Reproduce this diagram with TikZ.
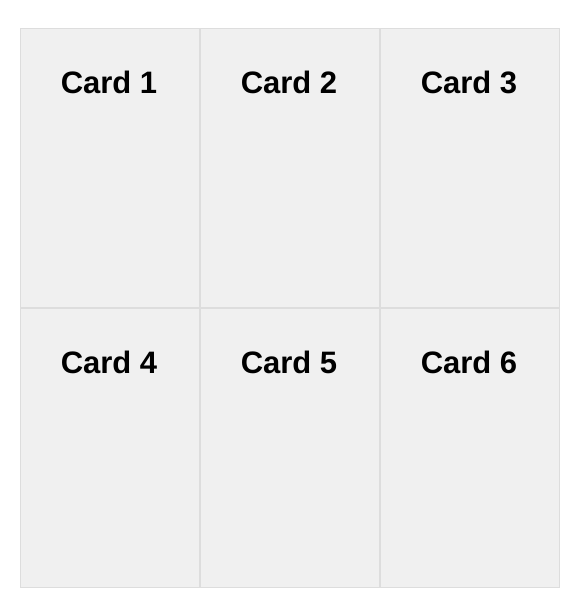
\documentclass[tikz,border=0pt]{standalone}
\usepackage{fontspec}
\setmainfont{Liberation Sans}
\usepackage{xcolor}
\usetikzlibrary{positioning}
\definecolor{cardfill}{HTML}{F0F0F0}
\definecolor{cardline}{HTML}{DDDDDD}
\tikzset{
    card/.style = {rectangle, draw=cardline, fill=cardfill, line width=1pt, inner sep=0pt, minimum width=179pt, minimum height=279pt},
    title/.style = {align=center, inner sep=0pt, text centered, font=\fontsize{31}{37}\selectfont\bfseries}
}
\begin{document}
\begin{tikzpicture}
            [node distance = 0pt]
            \useasboundingbox (0pt,0pt) rectangle (576pt,-609pt);

            % cards
            \node [card] (c1) at (110pt,-168pt) {};
            \node [card, right=of c1] (c2) {};
            \node [card, right=of c2] (c3) {};
            \node [card, below=of c1] (c4) {};
            \node [card, right=of c4] (c5) {};
            \node [card, right=of c5] (c6) {};

            % titles
            \node [title] (t1) at ([xshift=-1pt, yshift=-54pt]c1.north) {Card 1};
            \node [title] (t2) at ([xshift=-1pt, yshift=-54pt]c2.north) {Card 2};
            \node [title] (t3) at ([xshift=-1pt, yshift=-54pt]c3.north) {Card 3};
            \node [title] (t4) at ([xshift=-1pt, yshift=-54pt]c4.north) {Card 4};
            \node [title] (t5) at ([xshift=-1pt, yshift=-54pt]c5.north) {Card 5};
            \node [title] (t6) at ([xshift=-1pt, yshift=-54pt]c6.north) {Card 6};
\end{tikzpicture}
\end{document}
